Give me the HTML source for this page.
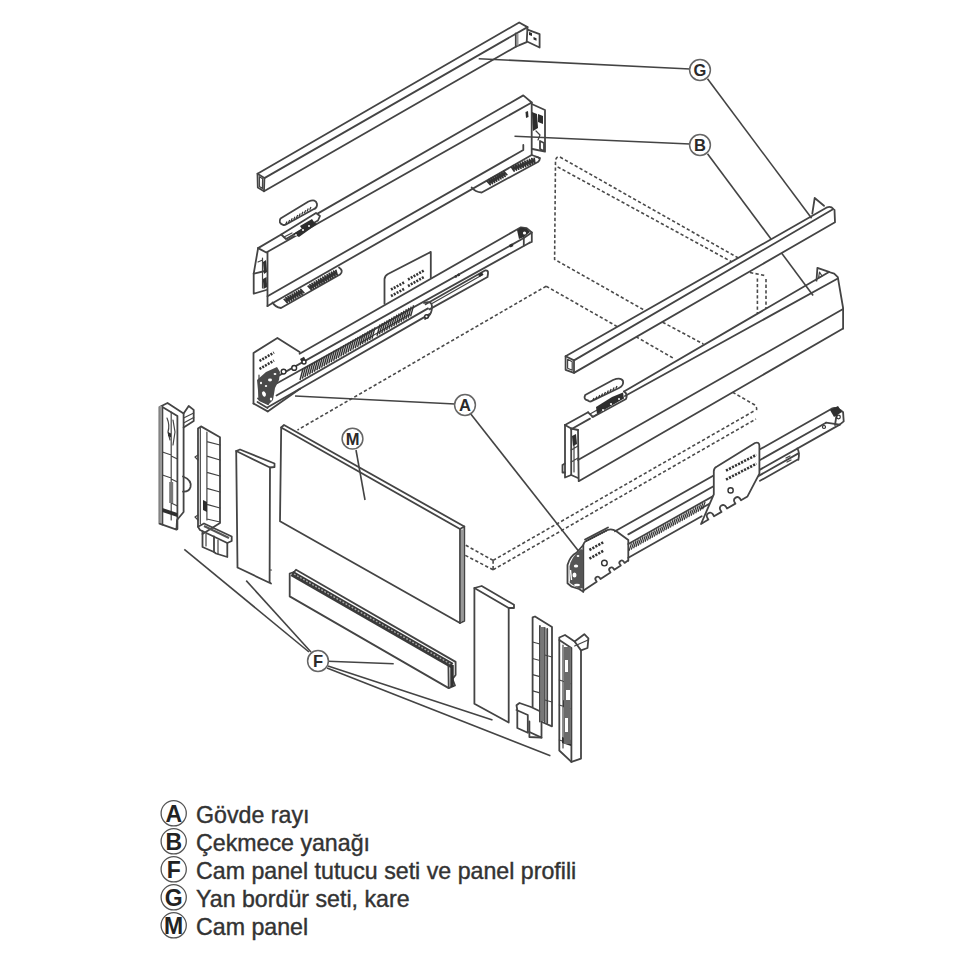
<!DOCTYPE html>
<html><head><meta charset="utf-8">
<style>
html,body{margin:0;padding:0;background:#fff;width:960px;height:960px;overflow:hidden}
svg{position:absolute;left:0;top:0}
</style></head><body>
<svg width="960" height="960" viewBox="0 0 960 960">

<g fill="none" stroke="#4a4a4a" stroke-width="1.6" stroke-dasharray="3.3 2.3">
<path d="M738.4,258 L560.4,157.3 Q557,155.5 555.5,160 L554.6,259.4 L660,319"/>
<path d="M732.6,262.3 L556,166"/>
<path d="M662.6,322.2 L703.4,344"/>
<path d="M750,272.5 L764.7,275.5 M757.4,278.4 L757.4,313.4 M766,279 L766,310"/>
<path d="M546.2,286.2 L297.5,430"/>
<path d="M546.2,286.2 L625,331"/>
<path d="M636,336.7 L674,358.6"/>
<path d="M732.6,392.2 L754,404.5 Q758,407 756,412"/>
<path d="M493.1,560.4 L465,544.8"/>
<path d="M493.1,569.8 L465,555.2"/>
<path d="M493.1,560.4 L493.1,569.8"/>
<path d="M493.1,560.4 L754,411"/>
<path d="M493.1,569.8 L756,419"/>
</g>
<g fill="#fff" stroke="none">
<path d="M565.6,356.2 L827.2,207.3 L833.4,208.1 L835,222.2 L574,372.9 L565.6,369.8 Z"/>
<path d="M257.5,173.7 L519.2,22.5 L527.5,27.1 L539.6,34.2 L539.6,47.5 L515.8,46.7 L264,191.2 L257.8,187.5 Z"/>
<path d="M565,425 L829,272 L834.2,273.6 L837.8,277.1 L843.1,308 L843.1,328.5 L578.7,481.2 L565,477.5 Z"/>
<path d="M258.1,248.1 L523.3,95 L545,110 L545,151.7 L540,158 L267.5,306.2 L253.7,293.7 Z"/>
<path d="M583.3,591.7 L567.5,583.3 L567.5,565 L588,540 L608,529.8 L831.7,408 L843.1,412.2 L843.7,421.4 L760,474 L701.7,521 L628,561 Z"/>
<path d="M253.5,403.5 L253.5,353 L277.4,338 L299.6,352.1 L515,230 L531.1,232.4 L531.1,242.1 L486.9,273.1 L486.9,280 L267.7,411.4 Z"/>
<path d="M281.2,427.5 L284,425 L464.3,526.5 L464.3,621 L460,623 L280,521.2 Z"/>
<path d="M289.7,573.5 L296,569.8 L455.6,661.9 L455.6,686 L448.7,688.1 L289.7,596.4 Z"/>
</g>
<g fill="none" stroke="#444" stroke-width="1.8" stroke-linejoin="round" stroke-linecap="round">
<path d="M257.5,173.7 L519.2,22.5 L527.5,27.1 L264.4,178.1 Z"/>
<path d="M257.5,173.7 L257.8,187.5 L264,191.2 L264.4,178.1"/>
<path d="M264,191.2 L515.8,46.7 L526.7,42.1 L527.5,27.1"/>
<path d="M515.8,33.3 L515.8,46.7"/>
<path d="M527.5,29.6 L539.6,34.2 L539.6,47.5 L527.5,41.7"/>
<path d="M258.1,248.1 L281.2,234.5"/>
<path d="M318,213.4 L523.3,95.4 L531.7,102.5 L266.3,252.5 L258.1,248.1"/>
<path d="M267.5,252.5 L267.5,306.2"/>
<path d="M531.7,102.5 L531.7,155"/>
<path d="M258.1,248.1 L253.7,273.7 L253.7,293.7 L266.3,290"/>
<path d="M253.7,273.7 L265,271"/>
<path d="M267.5,296.2 L523.3,150 L523.3,145"/>
<path d="M267.5,306 L531.7,155 L540,158"/>
<path d="M531.7,104 L545,110 L545,151.7 L532.5,149"/>
<path d="M540,141 L544,143 L544,151 L540,149 Z"/>
<path d="M283,224.8 Q278,223 280.5,218.5 L308.5,201.5 Q316,198.5 317,204 Q317.5,208 313,209.5 L286,224.5 Q284.5,225.3 283,224.8"/>
<path d="M281.2,234.5 L286,239 L318,220.5 L320,216 L316,213 Z"/>
<path d="M272.5,302.5 Q275,307 281,308 L340,274.5 Q344,271 339,267.5"/>
<path d="M471.7,187.5 Q475,192 481.7,192.5 L538.3,161.7 Q542,158 535.8,156.7"/>
<path d="M253.5,403.5 L253.5,353 L277.4,338 L299.6,352.1"/>
<path d="M253.5,403.5 L267.7,411.4"/>
<path d="M299.6,353.7 L516.5,229.8 L520.9,227.4 L526.7,228.1 L531.8,232.5 L531.8,242 L529.6,242.7"/>
<path d="M276.5,376.9 L523.8,238 L531.8,232.5"/>
<path d="M276.5,383.5 L529.6,242.7"/>
<path d="M523.8,238 L523.8,245.5"/>
<path d="M384.5,303.7 L384.5,279 Q385,275.5 388,274 L428.7,253 L430.8,251.9 L430.8,277.7"/>
<path d="M276.5,395.5 L428.0,308.4"/>
<path d="M267.7,407.3 L300.0,388.7"/>
<path d="M267.7,411.4 L300.0,388.7"/>
<path d="M300.0,388.7 L430.0,313.9"/>
<path d="M424,303 Q432,300 432,307 Q432,313 428,317 L425,319"/>
<path d="M425.6,304.2 L485,270.5 Q488.5,270 488,273.5 L487.5,277 L429.4,309.4"/>
<path d="M257.5,402 L267.5,408 M258,398.5 L268,404"/>
<path d="M565.6,356.2 L827.2,207.3 Q831,206 833.4,209 L574,360.4 Z"/>
<path d="M565.6,356.2 L565.6,369.8 L574,372.9 L574,360.4"/>
<path d="M574,372.9 L835,222.2 L834.5,210"/>
<path d="M812.3,213.6 L814.7,198 L824,205.8"/>
<path d="M565,425 L588.1,412.3"/>
<path d="M624,391.5 L829,272 L834.2,273.6 L837.8,277.1 L843.1,308 L843.1,328.5"/>
<path d="M565,425 L571.2,428.5 L578,430"/>
<path d="M571.2,429.3 L590,418.6"/>
<path d="M625,396 L837.8,278.5"/>
<path d="M565,425 L565,477.5 L571.2,475 L571.2,428.5"/>
<path d="M578,430 L578.7,481.2 L843.1,328.5"/>
<path d="M571.2,475 L578,478"/>
<path d="M578,460 L843.1,309"/>
<path d="M816.5,280.7 L817.4,267.8 L829,271.8"/>
<path d="M562.5,465 L565,463.5 M562.5,465 L562.5,472.5 L565,472.5"/>
<path d="M588,400.5 Q583,399.5 585.2,395 L613,380 Q621,377 623,381 Q624,385.5 619,388 L591,401.4 Q589,401.8 588,400.5"/>
<path d="M588.1,412.3 L593,417 L626,399 Q628,394 624,391.5"/>
<path d="M583.3,591.7 L583.3,545 Q584,541.5 588,540 L608,529.8 Q612,528.5 616,531 L628.3,540 L628.3,560.8"/>
<path d="M585,539.5 L608,527.5"/>
<path d="M628.0,560.6 L624.6,562.9 L623.6,561.5 A2.30,2.30 0 0 0 619.8,564.1 L620.8,565.5 L614.3,569.8 L613.4,568.4 A2.30,2.30 0 0 0 609.6,571.0 L610.5,572.4 L600.5,579.1 L599.6,577.7 A2.30,2.30 0 0 0 595.8,580.3 L596.7,581.7 L583.5,590.6"/>
<path d="M583.3,591.7 L579,589 L571.7,586.7 L567.5,583.3 L567.5,565 Q570,556 576.7,552.5 L583.3,545"/>
<path d="M615.0,531.3 L831.7,408.8"/>
<path d="M628.3,534.4 L826.0,422.7"/>
<path d="M628.3,544.0 L839.7,424.6"/>
<path d="M628.3,557.8 L701.7,516.3"/>
<path d="M831.7,408.8 Q836,406 843.1,412.2 L843.7,421.4 L839.7,424.6"/>
<path d="M826,422.7 L839.7,424.7 M837,412 L835,425"/>
<path d="M701.0,508.5 L798.4,453.4"/>
<path d="M760.0,480.8 L797.3,459.8"/>
<path d="M797.3,448.5 Q800,452.1 798.4,459.8"/>
<path d="M281.2,427.5 L460,529 L460,623 L280,521.2 Z"/>
<path d="M281.2,427.5 L284,425 L464.3,526.5 L464.3,621 L460,623"/>
<path d="M460,529 L464.3,526.5"/>
<path d="M159.5,523.7 L159.5,407 L167.5,403 L183.6,413.5 L183.6,512 L177,520 L176.5,529.6 L159.5,523.7"/>
<path d="M162.4,407 L162.4,524.5"/>
<path d="M177.4,529 L177.4,416 L162.4,407"/>
<path d="M183.6,413.6 L188.7,406 L193.7,409.9 L193.7,421 L183.6,427.4"/>
<path d="M183,476.5 Q192,480 190.5,487 Q189,492 183,491.6"/>
<path d="M198,526.7 L198,428.5 L201,426.4 L220,437.3 L220,523 L202.5,534"/>
<path d="M198,526.7 L204,523.5 L231.7,536.5 L231.7,541 L227.3,543 L200,530 Z"/>
<path d="M202.5,531.2 L202.5,547 L214,552 L214,536.5"/>
<path d="M214,552 L216,553.5 L227.3,557 L227.3,543"/>
<path d="M237.5,567.5 L236.2,451 L240,449.5 L274.5,463.5 L274.5,467 L270,467.5 L269.6,582 L271,583.5 L237.5,567.5"/>
<path d="M236.2,451 L270,467.5"/>
<path d="M289.7,573.5 L294,572 L296,569.8 L455.6,661.9 L455.6,675 L452.5,679 L455,685.5 L448.7,688.1 L289.7,596.4 Z"/>
<path d="M448.4,665 L448.7,688.1"/>
<path d="M474.4,703.7 L474.4,588 L481.7,586 L514,604.8 L514,608 L508.7,608 L508.7,722.5 L474.4,703.7"/>
<path d="M474.4,588 L508.7,608"/>
<path d="M532.6,707 L532.6,617.3 L535,616.5 L552,627 L552,726.3 L542,722"/>
<path d="M539.9,626 L539.9,721.5 M544.7,628 L544.7,722 M547.2,629 L547.2,723"/>
<path d="M516.5,705.3 L519.5,703 L531,707 L541.5,712 L541.5,737.6 L529.4,732 M516.5,705.3 L517.3,710 L517.3,728 L527.8,732.8 L527.8,715 L516.5,710"/>
<path d="M529.4,721.5 L529.4,737 L541.5,737.6"/>
<path d="M559.3,750.5 L559.3,637.5 L565,635 L574.6,641.5 L581,650.4 L581,758.6 L571.4,761.9 L559.3,750.5"/>
<path d="M571.4,761.9 L571.4,648 L559.3,640"/>
<path d="M574.6,641.5 L584.3,634.2 L588.4,638.3 L587.5,648 L581,650.4"/>
</g>
<g fill="none" stroke="#444" stroke-width="1.2" stroke-linejoin="round" stroke-linecap="round">
<path d="M259.4,176.7 L262.6,178.8 L262.4,188.6 L259.5,186.5 Z"/>
<path d="M262.5,258 L262.5,288 M258,262 L262.5,260 M262.5,280 L266,284"/>
<path d="M536,131 L540,135 L538,140"/>
<path d="M284,237 L292,233 M287,240 L294,236"/>
<path d="M432,303.5 L482,275"/>
<path d="M360.0,338.0 L410.0,309.2"/>
<path d="M360.0,343.0 L410.0,314.2"/>
<path d="M259,375 L259,400"/>
<path d="M567.6,359.3 L572.2,361.8 L572.2,370.3 L567.6,368.3 Z"/>
<path d="M819.5,272 L822,276 L818.5,278 Z"/>
<path d="M574,440 L574,472 M571.2,450 L578,446 M571.2,462 L578,458"/>
<path d="M590,414 L598,409.5 M592,417 L600,412.5"/>
<path d="M571,563 L582,557 M570,582 L582,586"/>
<path d="M786,458 l4,-2 M787,462 l4,-2"/>
<path d="M183.6,418 L193.7,413 M183.6,423 L193.7,417.5"/>
<path d="M171.2,412 L171.2,520 M162.4,452 L171.2,455 M162.4,475 L171.2,478 M171.2,456 L177.4,459 M171.2,479 L177.4,482 M171.2,503 L177.4,506"/>
<path d="M167,418 Q170,425 168,432 L170,440 M173,420 L175,432 L173,445"/>
<path d="M206,534 L206,546 M218,540 L218,554"/>
<path d="M200.3,428 L200.3,524 M206.9,432 L206.9,520 M206.9,441.7 L220,445 M206.9,456.2 L220,460 M206.9,472.3 L220,476 M206.9,488.3 L220,492 M206.9,504.4 L220,508 M206.9,519 L220,522"/>
<path d="M198,455 l-3,2 l3,3 M198,515 l-3,2 l3,3"/>
<path d="M270,570 l1.5,0"/>
<path d="M532.6,642 L539.9,644 M532.6,658.5 L539.9,660.5 M532.6,674.6 L539.9,676.6 M532.6,690.8 L539.9,692.8 M544.7,655 L552,657 M544.7,700 L552,702"/>
<path d="M574.6,646 L588,640"/>
<path d="M563,645 L563,748 M559.3,680 L571.4,684 M559.3,705 L571.4,709 M559.3,740 L571.4,744"/>
</g>
<g fill="#2e2e2e" stroke="none">
<path d="M529,32 l3,1 l0,3 l-3,-1 Z"/>
<path d="M533.5,37 l3,1.2 l0,2.5 l-3,-1.2 Z"/>
<path d="M263,262 L266,260 L267,272 L264,274 Z"/>
<path d="M263,279 L266.5,277 L267,287 L263.5,289 Z"/>
<path d="M532,112 L537,114 L538,128 L533,131 Z"/>
<path d="M538,114 L543,116 L543,124 L538,122 Z"/>
<path d="M525.5,112 l2.5,-1 l0.5,6 l-2.5,1 Z"/>
<path d="M293,234 L313,221.5 L317,224 L299,237 Z"/>
<path d="M300,226 L312,219 L314,222 L302,229 Z"/>
<path d="M517,230 L521,227.5 L526.5,228.5 L530,232 L524,237 L519,239 Z"/>
<path d="M509,245 l3,-1.5 l1.5,2.5 l-3,1.5 Z"/>
<path d="M478,274.5 l4,-2.2 l1.5,2.5 l-4,2.2 Z"/>
<path d="M300,359 l4,-2.3 l1.5,3 l-4,2.3 Z"/>
<path d="M572,436 L576,434 L577,444 L573,446 Z"/>
<path d="M597,414 L624,398.5 L623,392.5 L612,397 L596,407 Z"/>
<path d="M830,410 L838,406 L842,412 L834,417 Z"/>
<path d="M168,432 l3,1.5 l0,4 l-3,-1.5 Z"/>
<path d="M162.4,508 L177.4,513 L177.4,517 L162.4,512 Z"/>
<path d="M203,500 L207,502 L207,512 L203,510 Z"/>
<path d="M562,737 L571,740 L571,746 L562,743 Z"/>
<path d="M563,700 L570,703 L570,710 L563,707 Z"/>
</g>
<path d="M517.5,34 L517.5,45.5" stroke="#999" stroke-width="2" fill="none"/>
<path d="M287.0,221.5l-1.3,2.8M289.7,219.9l-1.3,2.8M292.3,218.3l-1.3,2.8M295.0,216.7l-1.3,2.8M297.7,215.1l-1.3,2.8M300.3,213.4l-1.3,2.8M303.0,211.8l-1.3,2.8M305.7,210.2l-1.3,2.8M308.3,208.6l-1.3,2.8M311.0,207.0l-1.3,2.8" stroke="#333" stroke-width="1.2" fill="none"/>
<g fill="#fff"><circle cx="303" cy="230" r="1"/><circle cx="309" cy="226" r="1"/><circle cx="296" cy="235" r="0.9"/></g>
<path d="M283.7,298.7 L287.3,302.7 L285.9,297.6 L289.4,301.5 L288.0,296.4 L291.6,300.3 L290.1,295.2 L293.7,299.2 L292.2,294.0 L295.8,298.0 L294.3,292.8 L297.9,296.8 L296.4,291.7 L300.0,295.6 L298.6,290.5 L302.1,294.4 L300.7,289.3 L304.3,293.3" stroke="#333" stroke-width="1.7" fill="none" stroke-linejoin="round"/>
<path d="M307.7,285.7 L311.4,289.6 L309.9,284.5 L313.5,288.4 L312.0,283.3 L315.7,287.2 L314.2,282.1 L317.8,285.9 L316.3,280.8 L320.0,284.7 L318.5,279.6 L322.1,283.5 L320.6,278.4 L324.3,282.3 L322.8,277.1 L326.4,281.0 L324.9,275.9 L328.6,279.8 L327.1,274.7 L330.8,278.6 L329.2,273.4 L332.9,277.3 L331.4,272.2 L335.1,276.1 L333.6,271.0 L337.2,274.9 L335.7,269.7" stroke="#333" stroke-width="1.7" fill="none" stroke-linejoin="round"/>
<path d="M486.7,180.7 L490.3,184.7 L488.9,179.6 L492.4,183.5 L491.0,178.4 L494.6,182.3 L493.1,177.2 L496.7,181.2 L495.2,176.0 L498.8,180.0 L497.3,174.8 L500.9,178.8 L499.4,173.7 L503.0,177.6 L501.6,172.5 L505.1,176.4 L503.7,171.3 L507.3,175.3" stroke="#333" stroke-width="1.7" fill="none" stroke-linejoin="round"/>
<path d="M511.1,166.6 L514.1,171.0 L513.4,165.7 L516.4,170.1 L515.7,164.8 L518.7,169.2 L518.0,163.9 L521.0,168.3 L520.3,163.0 L523.3,167.4 L522.6,162.1 L525.6,166.5 L524.9,161.2 L527.9,165.6 L527.2,160.3 L530.2,164.7 L529.5,159.4 L532.5,163.8 L531.8,158.5 L534.8,162.9 L534.1,157.6" stroke="#333" stroke-width="1.7" fill="none" stroke-linejoin="round"/>
<circle cx="524.5" cy="233" r="1.6" fill="#fff"/>
<path d="M259.5,361 L274,352.5 M259.5,369 L274,360.5 M391,296 L405,288.5 M391,289.5 L405,282 M408,286 L424,277 M408,279.5 L424,270.5 M455,277 L460,274" stroke="#333" stroke-width="2.6" stroke-dasharray="2 1.2" fill="none"/>
<path d="M300.0,380.0 L303.0,368.8M302.4,378.6 L305.4,367.4M304.8,377.2 L307.8,366.0M307.2,375.9 L310.2,364.6M309.6,374.5 L312.6,363.3M312.0,373.1 L315.0,361.9M314.4,371.7 L317.4,360.5M316.8,370.3 L319.8,359.1M319.2,369.0 L322.2,357.7M321.6,367.6 L324.6,356.4M324.0,366.2 L327.0,355.0M326.4,364.8 L329.4,353.6M328.8,363.4 L331.8,352.2M331.2,362.1 L334.2,350.8M333.6,360.7 L336.6,349.5M336.0,359.3 L339.0,348.1M338.4,357.9 L341.4,346.7M340.8,356.5 L343.8,345.3M343.2,355.2 L346.2,343.9M345.6,353.8 L348.6,342.6M348.0,352.4 L351.0,341.2M350.4,351.0 L353.4,339.8M352.8,349.6 L355.8,338.4M355.2,348.3 L358.2,337.0M357.6,346.9 L360.6,335.7M360.0,345.5 L363.0,334.3M362.4,344.1 L365.4,332.9M364.8,342.7 L367.8,331.5M367.2,341.4 L370.2,330.1M369.6,340.0 L372.6,328.8M372.0,338.6 L375.0,327.4" stroke="#333" stroke-width="1.4" fill="none"/>
<path d="M377.0,335.7 L380.0,324.5M379.4,334.3 L382.4,323.1M381.8,333.0 L384.8,321.7M384.2,331.6 L387.2,320.4M386.6,330.2 L389.6,319.0M389.0,328.8 L392.0,317.6M391.4,327.4 L394.4,316.2M393.8,326.1 L396.8,314.8M396.2,324.7 L399.2,313.5M398.6,323.3 L401.6,312.1M401.0,321.9 L404.0,310.7M403.4,320.5 L406.4,309.3M405.8,319.2 L408.8,307.9M408.2,317.8 L411.2,306.6M410.6,316.4 L413.6,305.2" stroke="#333" stroke-width="1.4" fill="none"/>
<path d="M257,380 L266,372 L277,367 L280,372 L279,380 L275,388 L273,400 L268,405 L259,401 Z" fill="#4a4a4a" stroke="none"/>
<g fill="#fff" stroke="none"><ellipse cx="264" cy="394" rx="1.8" ry="2.8" transform="rotate(-25 264 394)"/><ellipse cx="270" cy="380" rx="2" ry="1.4"/><ellipse cx="266" cy="386" rx="1.2" ry="1"/><ellipse cx="275" cy="374" rx="1.4" ry="1"/><ellipse cx="271" cy="399" rx="1.2" ry="1.6"/><ellipse cx="261" cy="383" rx="1" ry="1.3"/></g>
<g fill="#fff" stroke="#2e2e2e" stroke-width="1.4"><circle cx="283.6" cy="371.6" r="2.4"/><circle cx="294.2" cy="367.9" r="2.4"/><circle cx="304" cy="362" r="2"/><circle cx="426.5" cy="316.5" r="1.8"/></g>
<path d="M594.0,398.0l-1.2,2.6M596.9,396.5l-1.2,2.6M599.8,395.0l-1.2,2.6M602.6,393.5l-1.2,2.6M605.5,392.0l-1.2,2.6M608.4,390.5l-1.2,2.6M611.2,389.0l-1.2,2.6M614.1,387.5l-1.2,2.6M617.0,386.0l-1.2,2.6" stroke="#333" stroke-width="1.3" fill="none"/>
<g fill="#fff"><circle cx="603" cy="410" r="1"/><circle cx="611" cy="404" r="1.1"/><circle cx="619" cy="399" r="1"/></g>
<path d="M586,541 L607,530" stroke="#333" stroke-width="2.2" stroke-dasharray="1.3 0.9" fill="none"/>
<path d="M569.5,566 Q572,556 581,549 L583,550 L583,588 L579,589 L570,583 Z" fill="#555" stroke="none"/>
<g fill="#fff" stroke="none"><ellipse cx="576" cy="566" rx="2.2" ry="1.6"/><ellipse cx="574.5" cy="575" rx="2" ry="2.6"/><ellipse cx="577" cy="585" rx="3" ry="1.3"/><ellipse cx="578" cy="556" rx="1.3" ry="1"/><path d="M570.5,570 L571.5,580" stroke="#fff" stroke-width="1.4"/></g>
<path d="M589.4,550 L603.7,542 M589.4,558.7 L603.7,550.6" stroke="#333" stroke-width="2.6" stroke-dasharray="2.2 1.2" fill="none"/>
<circle cx="604.4" cy="563.1" r="2.8" fill="none" stroke="#333" stroke-width="1.4"/>
<g fill="none" stroke="#2e2e2e" stroke-width="1.2"><circle cx="838.5" cy="417" r="1.8"/><circle cx="824" cy="427" r="1.5"/></g>
<path d="M629.0,550.9 L631.5,543.4M631.3,549.6 L633.8,542.1M633.6,548.3 L636.1,540.8M635.9,547.0 L638.4,539.5M638.2,545.7 L640.7,538.2M640.5,544.4 L643.0,536.9M642.8,543.1 L645.3,535.6M645.1,541.8 L647.6,534.3M647.4,540.5 L649.9,533.1M649.7,539.2 L652.2,531.8M652.0,537.9 L654.5,530.5M654.3,536.6 L656.8,529.2M656.6,535.3 L659.1,527.9M658.9,534.0 L661.4,526.6M661.2,532.7 L663.7,525.3M663.5,531.4 L666.0,524.0M665.8,530.1 L668.3,522.7M668.1,528.8 L670.6,521.4M670.4,527.5 L672.9,520.1M672.7,526.2 L675.2,518.8M675.0,524.9 L677.5,517.5M677.3,523.6 L679.8,516.2M679.6,522.3 L682.1,514.9M681.9,521.0 L684.4,513.6M684.2,519.7 L686.7,512.3M686.5,518.4 L689.0,511.0M688.8,517.1 L691.3,509.7M691.1,515.8 L693.6,508.4M693.4,514.5 L695.9,507.1M695.7,513.2 L698.2,505.8M698.0,511.9 L700.5,504.5M700.3,510.6 L702.8,503.2M702.6,509.3 L705.1,501.9" stroke="#333" stroke-width="1.2" fill="none"/>
<path d="M701,524 L713.8,494.4 L713.8,471 Q714,467.7 717,466.5 L755,443 Q759.4,441.5 759.4,446 L759.4,473.6 L747.5,496.4 L747.5,496.4 L741.0,500.3 L739.8,498.3 A3.25,3.25 0 0 0 734.3,501.6 L735.4,503.6 L727.0,508.5 L725.9,506.6 A3.25,3.25 0 0 0 720.3,509.9 L721.5,511.9 L714.0,516.3 L712.9,514.3 A3.25,3.25 0 0 0 707.3,517.7 L708.4,519.6 L701.0,524.0 Z" fill="#fff" stroke="#444" stroke-width="1.8" stroke-linejoin="round"/>
<path d="M726,470.6 L756.4,454.8 M726,479.6 L756.4,463.7" stroke="#333" stroke-width="2.6" stroke-dasharray="2.2 1.2" fill="none"/>
<circle cx="730.6" cy="490.4" r="2.6" fill="none" stroke="#333" stroke-width="1.4"/>
<path d="M462.2,529.5 L462.2,621" stroke="#999" stroke-width="2.5" fill="none"/>
<path d="M160.5,406 L160.5,523" stroke="#999" stroke-width="2.5" fill="none"/>
<path d="M171.2,482 L171.2,503" stroke="#777" stroke-width="4" fill="none"/>
<path d="M204,526 L229,538" stroke="#555" stroke-width="2" fill="none"/>
<path d="M292,573.5 L452,665.5" stroke="#3a3a3a" stroke-width="5.5" fill="none"/>
<path d="M294,574 L451,664.3" stroke="#aaa" stroke-width="1.4" stroke-dasharray="1.8 1.7" fill="none"/>
<path d="M452,665 L452,687" stroke="#333" stroke-width="3.5" fill="none"/>
<path d="M542.3,627 L542.3,721" stroke="#777" stroke-width="4" fill="none"/>
<path d="M567.3,647 L567.3,744" stroke="#6a6a6a" stroke-width="7" fill="none"/>
<g fill="#fff"><rect x="565" y="660" width="3" height="12"/><rect x="566" y="690" width="4" height="10"/><rect x="565" y="718" width="3" height="14"/></g>
<g fill="none" stroke="#444" stroke-width="1.6">
<path d="M478.7,58.7 L690,69"/>
<path d="M707.5,78.7 L811.6,218.3"/>
<path d="M514.5,136.2 L690,144"/>
<path d="M707.5,153.7 L771,239"/>
<path d="M781.7,253.2 L813.1,295.6"/>
<path d="M295,396 L455,404"/>
<path d="M470,413 L578.5,551"/>
<path d="M356,450 L365,500"/>
<path d="M184.3,549.3 L309,652"/>
<path d="M246.2,580.6 L311,652"/>
<path d="M328,661.2 L393.7,663.7"/>
<path d="M328,666 L492.5,720"/>
<path d="M327,668 L550.4,755.8"/>
</g>
<g fill="#fff" stroke="#666" stroke-width="1.5">
<circle cx="700" cy="70" r="10.4"/>
<circle cx="700" cy="145" r="10.4"/>
<circle cx="465" cy="405" r="10.4"/>
<circle cx="352.5" cy="438.7" r="10.4"/>
<circle cx="318" cy="661" r="10.4"/>
</g>
<g font-family="Liberation Sans, sans-serif" font-weight="bold" font-size="16.5" fill="#2a2a2a" text-anchor="middle">
<text x="700" y="76">G</text>
<text x="700" y="151">B</text>
<text x="465" y="411">A</text>
<text x="352.5" y="444.7">M</text>
<text x="318" y="667">F</text>
</g>
<g fill="#fff" stroke="#555" stroke-width="1.3">
<circle cx="173.7" cy="813.3" r="12.6"/>
<circle cx="173.7" cy="841.3" r="12.6"/>
<circle cx="173.7" cy="869.3" r="12.6"/>
<circle cx="173.7" cy="897.3" r="12.6"/>
<circle cx="173.7" cy="925.3" r="12.6"/>
</g>
<g font-family="Liberation Sans, sans-serif" font-weight="bold" font-size="23" fill="#222" text-anchor="middle">
<text x="173.7" y="821.5">A</text>
<text x="173.7" y="849.5">B</text>
<text x="173.7" y="877.5">F</text>
<text x="173.7" y="905.5">G</text>
<text x="173.7" y="933.5">M</text>
</g>
<g font-family="Liberation Sans, sans-serif" font-size="23.2" fill="#333" stroke="#333" stroke-width="0.4">
<text x="196" y="822.5">Gövde rayı</text>
<text x="196" y="850.5">Çekmece yanağı</text>
<text x="196" y="878.5">Cam panel tutucu seti ve panel profili</text>
<text x="196" y="906.5">Yan bordür seti, kare</text>
<text x="196" y="934.5">Cam panel</text>
</g>
</svg></body></html>
